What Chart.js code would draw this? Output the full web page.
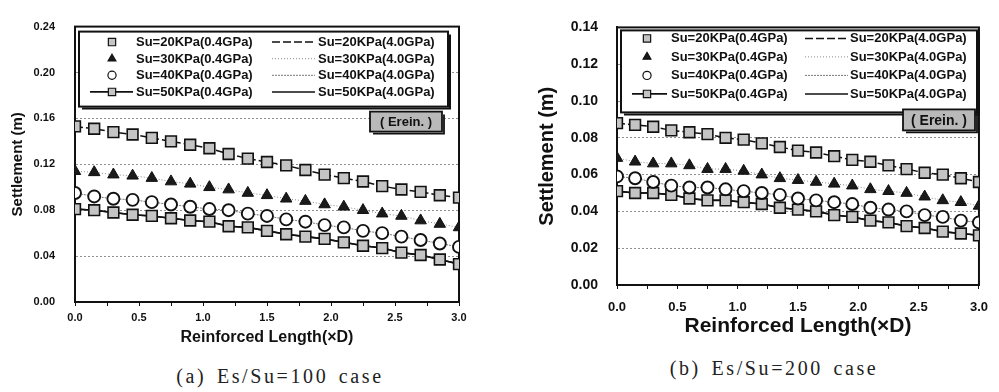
<!DOCTYPE html>
<html lang="en">
<head>
<meta charset="UTF-8" />
<title>Settlement vs Reinforced Length</title>
<script src="https://cdn.jsdelivr.net/npm/chart.js"></script>
<style>
  body {
    margin: 0;
    background: #fff;
    width: 999px;
    height: 392px;
    position: relative;
    overflow: hidden;
  }
  .panel { position: absolute; top: 0; }
  #panelA { left: 0; width: 480px; height: 350px; }
  #panelB { left: 495px; width: 504px; height: 345px; }
  .caption {
    position: absolute;
    font-family: 'Liberation Serif', 'DejaVu Serif', serif;
    font-size: 20px;
    letter-spacing: 2.6px;
    word-spacing: 3px;
    color: #222;
    white-space: pre;
    transform: translateX(-50%);
  }
</style>
</head>
<body>
<div class="panel" id="panelA"><canvas id="chartA"></canvas></div>
<div class="panel" id="panelB"><canvas id="chartB"></canvas></div>
<div class="caption" style="left:280px; top:365px;">(a) Es/Su=100 case</div>
<div class="caption" style="left:774px; top:357px;">(b) Es/Su=200 case</div>

<script>
// reinforced length (xD)
const lengthD = [0.0, 0.15, 0.3, 0.45, 0.6, 0.75, 0.9, 1.05, 1.2, 1.35, 1.5,
                 1.65, 1.8, 1.95, 2.1, 2.25, 2.4, 2.55, 2.7, 2.85, 3.0];

// (a) Es/Su=100 - settlement (m)
const a_su20 = [0.153, 0.151, 0.148, 0.146, 0.143, 0.140, 0.137, 0.134, 0.129, 0.125, 0.122,
                0.119, 0.115, 0.111, 0.108, 0.105, 0.101, 0.098, 0.096, 0.093, 0.091];
const a_su30 = [0.114, 0.113, 0.111, 0.110, 0.108, 0.105, 0.103, 0.100, 0.098, 0.095, 0.093,
                0.090, 0.088, 0.085, 0.083, 0.080, 0.077, 0.075, 0.071, 0.068, 0.065];
const a_su40 = [0.095, 0.092, 0.090, 0.089, 0.087, 0.085, 0.083, 0.081, 0.080, 0.077, 0.075,
                0.072, 0.070, 0.067, 0.065, 0.062, 0.060, 0.057, 0.054, 0.051, 0.048];
const a_su50 = [0.081, 0.080, 0.078, 0.076, 0.075, 0.073, 0.071, 0.070, 0.066, 0.065, 0.062,
                0.059, 0.057, 0.055, 0.052, 0.049, 0.047, 0.043, 0.041, 0.037, 0.033];

// (b) Es/Su=200 - settlement (m)
const b_su20 = [0.088, 0.087, 0.086, 0.084, 0.083, 0.082, 0.080, 0.079, 0.077, 0.075, 0.073,
                0.072, 0.070, 0.068, 0.067, 0.065, 0.063, 0.061, 0.060, 0.058, 0.056];
const b_su30 = [0.069, 0.067, 0.066, 0.066, 0.065, 0.063, 0.063, 0.062, 0.060, 0.058, 0.057,
                0.056, 0.055, 0.054, 0.052, 0.051, 0.050, 0.048, 0.046, 0.045, 0.043];
const b_su40 = [0.059, 0.058, 0.056, 0.054, 0.053, 0.053, 0.052, 0.051, 0.050, 0.049, 0.047,
                0.046, 0.045, 0.044, 0.042, 0.041, 0.040, 0.038, 0.037, 0.035, 0.034];
const b_su50 = [0.051, 0.050, 0.050, 0.049, 0.047, 0.046, 0.046, 0.045, 0.044, 0.042, 0.041,
                0.040, 0.038, 0.037, 0.035, 0.034, 0.032, 0.031, 0.029, 0.028, 0.027];

const suLabels = ['Su=20KPa', 'Su=30KPa', 'Su=40KPa', 'Su=50KPa'];
const gpaLabels = ['(0.4GPa)', '(4.0GPa)'];

Chart.defaults.font.family = "'Liberation Sans', Arial, sans-serif";
Chart.defaults.color = '#111';

function buildDatasets(s20, s30, s40, s50) {
  const pts = vals => lengthD.map((x, i) => ({ x: x, y: vals[i] }));
  const lo = gpaLabels[0], hi = gpaLabels[1];
  return [
    { label: suLabels[0] + lo, data: pts(s20), showLine: false, pointStyle: 'rect', pointRadius: 7.6,
      backgroundColor: '#c4c4c4', borderColor: '#111', borderWidth: 1.6, order: 0 },
    { label: suLabels[1] + lo, data: pts(s30), showLine: false, pointStyle: 'triangle', pointRadius: 6.6,
      backgroundColor: '#1a1a1a', borderColor: '#111', borderWidth: 1, order: 0 },
    { label: suLabels[2] + lo, data: pts(s40), showLine: false, pointStyle: 'circle', pointRadius: 6,
      backgroundColor: '#fff', borderColor: '#111', borderWidth: 1.9, order: 0 },
    { label: suLabels[3] + lo, data: pts(s50), showLine: true, pointStyle: 'rect', pointRadius: 7.6,
      backgroundColor: '#c4c4c4', borderColor: '#111', borderWidth: 1.6, order: 0 },
    { label: suLabels[0] + hi, data: pts(s20), showLine: true, pointRadius: 0,
      borderColor: '#111', borderWidth: 1.5, borderDash: [8, 3], order: 1 },
    { label: suLabels[1] + hi, data: pts(s30), showLine: true, pointRadius: 0,
      borderColor: '#8a8a8a', borderWidth: 1, borderDash: [1, 2], order: 1 },
    { label: suLabels[2] + hi, data: pts(s40), showLine: true, pointRadius: 0,
      borderColor: '#777', borderWidth: 1, borderDash: [2, 1], order: 1 },
    { label: suLabels[3] + hi, data: pts(s50), showLine: true, pointRadius: 0,
      borderColor: '#111', borderWidth: 1.5, order: 1 }
  ];
}

function drawMarker(ctx, style, r, x, y) {
  ctx.beginPath();
  if (style === 'rect') {
    const s = r * Math.SQRT1_2;
    ctx.rect(x - s, y - s, 2 * s, 2 * s);
  } else if (style === 'triangle') {
    ctx.moveTo(x, y - r);
    ctx.lineTo(x + r * 0.866, y + r * 0.5);
    ctx.lineTo(x - r * 0.866, y + r * 0.5);
    ctx.closePath();
  } else {
    ctx.arc(x, y, r, 0, Math.PI * 2);
  }
  ctx.fill();
  ctx.stroke();
}

function shadowBox(ctx, x, y, w, h, fill, lw) {
  ctx.fillStyle = fill;
  ctx.fillRect(x, y, w, h);
  ctx.strokeStyle = '#111';
  ctx.setLineDash([]);
  ctx.lineWidth = lw;
  ctx.strokeRect(x, y, w, h);
  ctx.beginPath();
  ctx.moveTo(x + 3, y + h + 2);
  ctx.lineTo(x + w + 2, y + h + 2);
  ctx.lineTo(x + w + 2, y + 3);
  ctx.stroke();
}

// frame, boxed legend and "( Erein. )" tag
const decorPlugin = {
  id: 'decor',
  beforeDatasetsDraw(chart) {
    const { ctx, chartArea: ca } = chart;
    ctx.save();
    ctx.strokeStyle = '#111';
    ctx.lineWidth = 2;
    ctx.strokeRect(ca.left, ca.top, ca.right - ca.left, ca.bottom - ca.top);
    ctx.restore();
  },
  afterDatasetsDraw(chart, args, opts) {
    const { ctx, chartArea: ca } = chart;
    const sets = chart.data.datasets;
    ctx.save();

    const b = opts.box;
    const bx = ca.left + b.x, by = ca.top + b.y;
    shadowBox(ctx, bx, by, b.w, b.h, '#fff', 2);

    ctx.font = opts.font;
    ctx.textBaseline = 'middle';
    ctx.textAlign = 'left';
    sets.forEach((ds, i) => {
      const col = i < 4 ? opts.col0 : opts.col1;
      const y = by + opts.row0 + (i % 4) * opts.rowStep;
      if (ds.showLine) {
        ctx.strokeStyle = ds.borderColor;
        ctx.lineWidth = ds.borderWidth;
        ctx.setLineDash(ds.borderDash || []);
        ctx.beginPath();
        ctx.moveTo(bx + col.line[0], y);
        ctx.lineTo(bx + col.line[1], y);
        ctx.stroke();
      }
      if (ds.pointRadius > 0) {
        ctx.setLineDash([]);
        ctx.fillStyle = ds.backgroundColor;
        ctx.strokeStyle = ds.borderColor;
        ctx.lineWidth = 1.2;
        drawMarker(ctx, ds.pointStyle, ds.pointRadius * 0.68, bx + col.mark, y);
      }
      ctx.fillStyle = '#111';
      ctx.fillText(ds.label, bx + col.text, y + 0.5);
    });

    const t = opts.tag;
    const tx = ca.left + t.x, ty = ca.top + t.y;
    shadowBox(ctx, tx, ty, t.w, t.h, '#b9b9b9', 1.8);
    ctx.font = opts.tagFont;
    ctx.fillStyle = '#111';
    ctx.textAlign = 'center';
    ctx.fillText('( Erein. )', tx + t.w / 2, ty + t.h / 2 + 1);
    ctx.restore();
  }
};

function makeChart(id, datasets, cfg) {
  return new Chart(document.getElementById(id), {
    type: 'scatter',
    data: { datasets: datasets },
    plugins: [decorPlugin],
    options: {
      responsive: true,
      maintainAspectRatio: false,
      animation: false,
      layout: { padding: { top: cfg.top, right: cfg.right, left: 0, bottom: 0 } },
      plugins: {
        legend: { display: false },
        tooltip: { enabled: false },
        decor: cfg.decor
      },
      scales: {
        x: {
          type: 'linear',
          min: 0,
          max: 3,
          ticks: {
            stepSize: 0.25,
            padding: cfg.xTickPad,
            maxRotation: 0,
            font: { size: cfg.xTickSize, weight: 'bold' },
            callback: v => (Math.abs(v * 2 - Math.round(v * 2)) < 1e-6 ? v.toFixed(1) : '')
          },
          grid: { drawOnChartArea: false, drawTicks: true, tickLength: 4, color: '#111' },
          border: { display: true, color: '#111', width: 2 },
          title: {
            display: true,
            text: 'Reinforced Length(×D)',
            font: { size: cfg.xTitleSize, weight: 'bold' },
            padding: { top: 0, bottom: cfg.xTitlePad }
          },
          afterFit: s => { s.height = cfg.xHeight; }
        },
        y: {
          min: 0,
          max: cfg.yMax,
          ticks: {
            stepSize: cfg.yStep,
            padding: cfg.yTickPad,
            font: { size: cfg.yTickSize, weight: 'bold' },
            callback: v => v.toFixed(2)
          },
          grid: { color: '#8f8f8f', lineWidth: 1, drawTicks: false },
          border: { display: true, color: '#111', width: 2, dash: [2, 2] },
          title: {
            display: true,
            text: 'Settlement (m)',
            font: { size: cfg.yTitleSize, weight: 'bold' },
            padding: { top: cfg.yTitlePad, bottom: 0 }
          },
          afterFit: s => { s.width = cfg.yWidth; }
        }
      }
    }
  });
}

makeChart('chartA', buildDatasets(a_su20, a_su30, a_su40, a_su50), {
  top: 13, right: 21, yWidth: 75, xHeight: 48,
  yMax: 0.24, yStep: 0.04,
  xTickSize: 11, yTickSize: 11, xTickPad: 5, yTickPad: 20,
  xTitleSize: 16, xTitlePad: 3, yTitleSize: 15, yTitlePad: 9,
  decor: {
    box: { x: 4, y: 5, w: 369, h: 75 },
    row0: 10.5, rowStep: 16.6,
    col0: { mark: 33, line: [11, 54], text: 57 },
    col1: { mark: 214, line: [193, 236], text: 239 },
    font: "bold 13px 'Liberation Sans', Arial, sans-serif",
    tag: { x: 295, y: 85, w: 72, h: 20 },
    tagFont: "bold 13px 'Liberation Sans', Arial, sans-serif"
  }
});

makeChart('chartB', buildDatasets(b_su20, b_su30, b_su40, b_su50), {
  top: 12, right: 11, yWidth: 122, xHeight: 60,
  yMax: 0.14, yStep: 0.02,
  xTickSize: 13, yTickSize: 14, xTickPad: 11, yTickPad: 19,
  xTitleSize: 21, xTitlePad: 6, yTitleSize: 20, yTitlePad: 40,
  decor: {
    box: { x: 4, y: 3, w: 356, h: 82 },
    row0: 8, rowStep: 18.5,
    col0: { mark: 26, line: [11, 46], text: 50 },
    col1: { mark: 205, line: [184, 227], text: 229 },
    font: "bold 13px 'Liberation Sans', Arial, sans-serif",
    tag: { x: 286, y: 82, w: 72, h: 21 },
    tagFont: "bold 14px 'Liberation Sans', Arial, sans-serif"
  }
});
</script>
</body>
</html>
